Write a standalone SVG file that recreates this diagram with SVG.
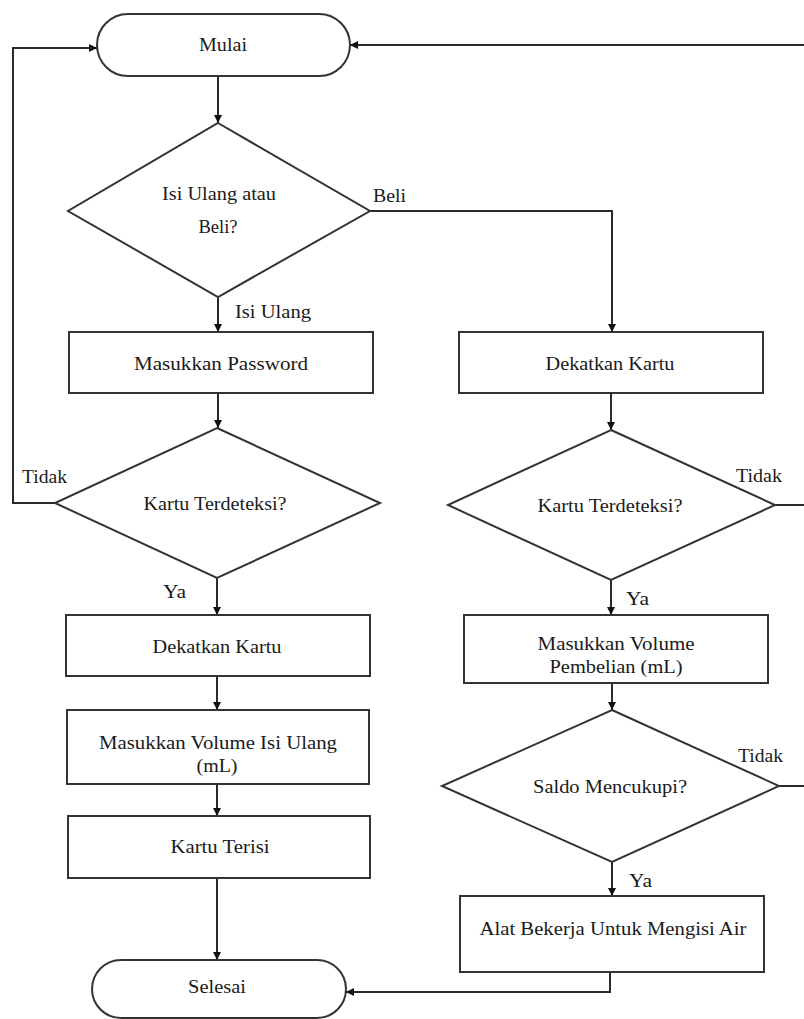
<svg xmlns="http://www.w3.org/2000/svg" width="804" height="1019" viewBox="0 0 804 1019">
<style>
.s{fill:#fff;stroke:#333;stroke-width:2}
.c{fill:none;stroke:#2a2a2a;stroke-width:2}
.t{font-family:"Liberation Serif","Times New Roman",serif;font-size:19px;fill:#1a1a1a;text-anchor:middle}
.l{font-family:"Liberation Serif","Times New Roman",serif;font-size:19px;fill:#1a1a1a}
</style>
<defs>
<marker id="ah" viewBox="0 0 10 10" refX="10" refY="5" markerWidth="9" markerHeight="8" markerUnits="userSpaceOnUse" orient="auto">
<path d="M0,0 L10,5 L0,10 z" fill="#111"/>
</marker>
</defs>
<rect width="804" height="1019" fill="#fff"/>
<g id="connectors">
<path class="c" d="M218,76 V123" marker-end="url(#ah)"/>
<path class="c" d="M370,211 H612 V332" marker-end="url(#ah)"/>
<path class="c" d="M218,297 V332" marker-end="url(#ah)"/>
<path class="c" d="M218,393 V428" marker-end="url(#ah)"/>
<path class="c" d="M55,503 H13 V48 H97" marker-end="url(#ah)"/>
<path class="c" d="M217,578 V615" marker-end="url(#ah)"/>
<path class="c" d="M217,676 V710" marker-end="url(#ah)"/>
<path class="c" d="M217,784 V816" marker-end="url(#ah)"/>
<path class="c" d="M217,878 V960" marker-end="url(#ah)"/>
<path class="c" d="M804,45 H350" marker-end="url(#ah)"/>
<path class="c" d="M611,393 V430" marker-end="url(#ah)"/>
<path class="c" d="M775,505 H804"/>
<path class="c" d="M611,580 V615" marker-end="url(#ah)"/>
<path class="c" d="M612,683 V710" marker-end="url(#ah)"/>
<path class="c" d="M779,786 H804"/>
<path class="c" d="M612,862 V896" marker-end="url(#ah)"/>
<path class="c" d="M610,972 V992 H346" marker-end="url(#ah)"/>
</g>
<g id="mulai">
<rect class="s" x="97" y="14" width="253" height="62" rx="31"/>
<text class="t" x="223" y="51" textLength="48" lengthAdjust="spacingAndGlyphs">Mulai</text>
</g>
<g id="pilih">
<polygon class="s" points="218,123 370,211 218,297 68,211"/>
<text class="t" x="219" y="200" textLength="114" lengthAdjust="spacingAndGlyphs">Isi Ulang atau</text>
<text class="t" x="218" y="233" textLength="39" lengthAdjust="spacingAndGlyphs">Beli?</text>
</g>
<g id="labels">
<text class="l" x="373" y="202" textLength="33" lengthAdjust="spacingAndGlyphs">Beli</text>
<text class="l" x="235" y="318" textLength="76" lengthAdjust="spacingAndGlyphs">Isi Ulang</text>
<text class="l" x="22" y="483" textLength="45" lengthAdjust="spacingAndGlyphs">Tidak</text>
<text class="l" x="163" y="598" textLength="23" lengthAdjust="spacingAndGlyphs">Ya</text>
<text class="l" x="736" y="482" textLength="46" lengthAdjust="spacingAndGlyphs">Tidak</text>
<text class="l" x="626" y="605" textLength="23" lengthAdjust="spacingAndGlyphs">Ya</text>
<text class="l" x="738" y="762" textLength="45" lengthAdjust="spacingAndGlyphs">Tidak</text>
<text class="l" x="629" y="887" textLength="23" lengthAdjust="spacingAndGlyphs">Ya</text>
</g>
<g id="password">
<rect class="s" x="69" y="332" width="304" height="61"/>
<text class="t" x="221" y="370" textLength="174" lengthAdjust="spacingAndGlyphs">Masukkan Password</text>
</g>
<g id="deteksi1">
<polygon class="s" points="217,428 380,503 217,578 55,503"/>
<text class="t" x="215" y="510" textLength="143" lengthAdjust="spacingAndGlyphs">Kartu Terdeteksi?</text>
</g>
<g id="dekat1">
<rect class="s" x="66" y="615" width="304" height="61"/>
<text class="t" x="217" y="653" textLength="129" lengthAdjust="spacingAndGlyphs">Dekatkan Kartu</text>
</g>
<g id="volisi">
<rect class="s" x="67" y="710" width="302" height="74"/>
<text class="t" x="218" y="749" textLength="238" lengthAdjust="spacingAndGlyphs">Masukkan Volume Isi Ulang</text>
<text class="t" x="217" y="772" textLength="41" lengthAdjust="spacingAndGlyphs">(mL)</text>
</g>
<g id="terisi">
<rect class="s" x="68" y="816" width="302" height="62"/>
<text class="t" x="220" y="853" textLength="99" lengthAdjust="spacingAndGlyphs">Kartu Terisi</text>
</g>
<g id="selesai">
<rect class="s" x="92" y="960" width="254" height="58" rx="29"/>
<text class="t" x="217" y="993" textLength="58" lengthAdjust="spacingAndGlyphs">Selesai</text>
</g>
<g id="dekat2">
<rect class="s" x="459" y="332" width="304" height="61"/>
<text class="t" x="610" y="370" textLength="129" lengthAdjust="spacingAndGlyphs">Dekatkan Kartu</text>
</g>
<g id="deteksi2">
<polygon class="s" points="611,430 775,505 611,580 448,505"/>
<text class="t" x="610" y="512" textLength="145" lengthAdjust="spacingAndGlyphs">Kartu Terdeteksi?</text>
</g>
<g id="volbeli">
<rect class="s" x="464" y="615" width="304" height="68"/>
<text class="t" x="616" y="650" textLength="157" lengthAdjust="spacingAndGlyphs">Masukkan Volume</text>
<text class="t" x="616" y="673" textLength="133" lengthAdjust="spacingAndGlyphs">Pembelian (mL)</text>
</g>
<g id="saldo">
<polygon class="s" points="612,710 779,786 612,862 442,786"/>
<text class="t" x="610" y="793" textLength="154" lengthAdjust="spacingAndGlyphs">Saldo Mencukupi?</text>
</g>
<g id="alat">
<rect class="s" x="460" y="896" width="304" height="76"/>
<text class="t" x="613" y="935" textLength="267" lengthAdjust="spacingAndGlyphs">Alat Bekerja Untuk Mengisi Air</text>
</g>
</svg>
